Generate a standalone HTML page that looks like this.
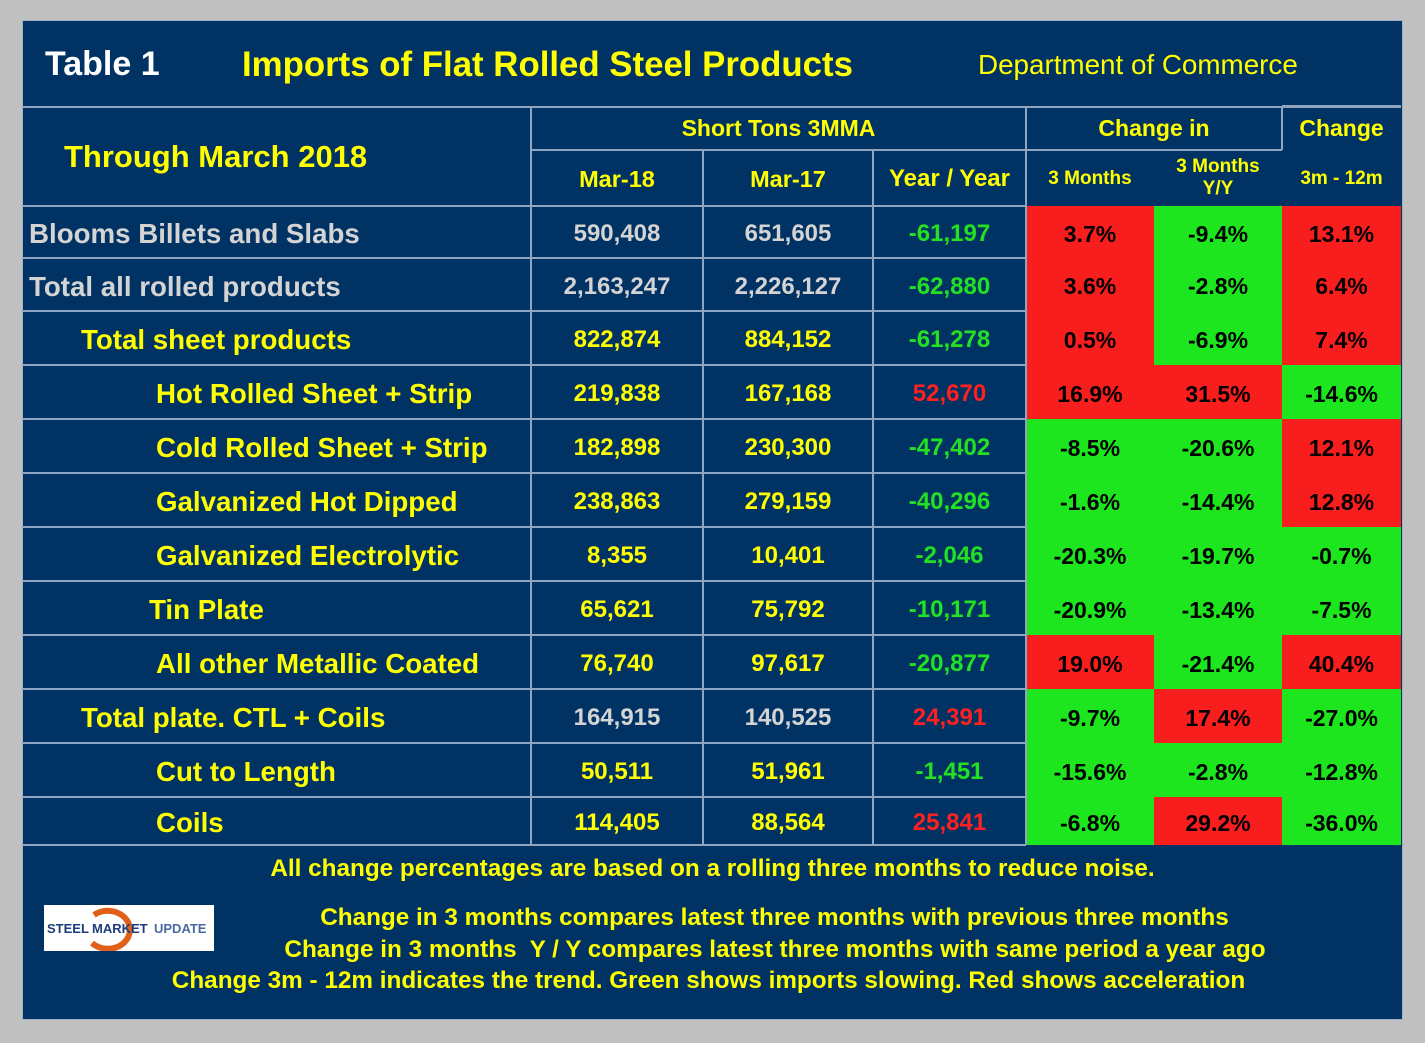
<!DOCTYPE html>
<html><head><meta charset="utf-8"><style>
body{margin:0;width:1425px;height:1043px;background:#c0c0c0;font-family:"Liberation Sans",Arial,sans-serif;font-weight:bold;overflow:hidden;position:relative}
#panel{position:absolute;left:22px;top:20px;width:1379px;height:998px;background:#003363;border:1px solid #9fb2c8}
.a{position:absolute;box-sizing:border-box;white-space:nowrap}
.c{display:flex;align-items:center;justify-content:center}
.hl{position:absolute;height:2px;background:#8ea4bf}
.vl{position:absolute;width:2px;background:#8ea4bf}
.ft{position:absolute;font-size:24.3px;color:#ffff00;white-space:nowrap}
</style></head><body>
<div id="panel"></div>
<div class="a" style="left:45px;top:45px;font-size:34px;color:#fff">Table 1</div>
<div class="a" style="left:242px;top:45px;font-size:34.8px;color:#ffff00">Imports of Flat Rolled Steel Products</div>
<div class="a" style="left:978px;top:49px;font-size:27.8px;color:#ffff00;font-weight:normal">Department of Commerce</div>
<div class="a" style="left:64px;top:139px;font-size:31px;color:#ffff00">Through March 2018</div>
<div class="a c" style="left:531px;top:106px;width:495px;height:44px;font-size:23px;color:#ffff00">Short Tons 3MMA</div>
<div class="a c" style="left:1026px;top:106px;width:256px;height:44px;font-size:23px;color:#ffff00">Change in</div>
<div class="a c" style="left:1282px;top:106px;width:119px;height:44px;font-size:23px;color:#ffff00">Change</div>
<div class="a c" style="left:531px;top:150px;width:172px;height:58px;font-size:23.5px;color:#ffff00">Mar-18</div>
<div class="a c" style="left:703px;top:150px;width:170px;height:58px;font-size:23.5px;color:#ffff00">Mar-17</div>
<div class="a c" style="left:873px;top:150px;width:153px;height:58px;font-size:24px;color:#ffff00">Year / Year</div>
<div class="a c" style="left:1026px;top:150px;width:128px;height:58px;font-size:19px;color:#ffff00">3 Months</div>
<div class="a c" style="left:1154px;top:150px;width:128px;height:56px;font-size:19px;color:#ffff00;text-align:center;line-height:22px;white-space:normal">3 Months<br>Y/Y</div>
<div class="a c" style="left:1282px;top:150px;width:119px;height:58px;font-size:19px;color:#ffff00">3m - 12m</div>
<div class="ft" style="left:270px;top:855px;width:885px;text-align:center">All change percentages are based on a rolling three months to reduce noise.</div>
<div class="ft" style="left:320px;top:904px;width:909px;text-align:center">Change in 3 months compares latest three months with previous three months</div>
<div class="ft" style="left:283px;top:936px;width:984px;text-align:center">Change in 3 months&nbsp; Y / Y compares latest three months with same period a year ago</div>
<div class="ft" style="left:171px;top:967px;width:1075px;text-align:center">Change 3m - 12m indicates the trend. Green shows imports slowing. Red shows acceleration</div>
<div class="a" style="left:44px;top:905px;width:170px;height:46px;background:#fff">
<svg width="170" height="46"><path d="M50 10 A22 19 0 1 1 48 38" fill="none" stroke="#e0601a" stroke-width="6"/><text x="3" y="28" font-family="Liberation Sans" font-size="13" font-weight="bold" fill="#1c3d7a">STEEL</text><text x="48" y="28" font-family="Liberation Sans" font-size="13" fill="#1c3d7a">MARKET</text><text x="110" y="28" font-family="Liberation Sans" font-size="13" fill="#4a6aa0">UPDATE</text></svg></div>
<div id="grid"></div>
<script>
const labels=["Blooms Billets and Slabs","Total all rolled products","Total sheet products","Hot Rolled Sheet + Strip","Cold Rolled Sheet + Strip","Galvanized Hot Dipped","Galvanized Electrolytic","Tin Plate","All other Metallic Coated","Total plate. CTL + Coils","Cut to Length","Coils"];
const mar18=["590,408","2,163,247","822,874","219,838","182,898","238,863","8,355","65,621","76,740","164,915","50,511","114,405"];
const mar17=["651,605","2,226,127","884,152","167,168","230,300","279,159","10,401","75,792","97,617","140,525","51,961","88,564"];
const yoy=["-61,197","-62,880","-61,278","52,670","-47,402","-40,296","-2,046","-10,171","-20,877","24,391","-1,451","25,841"];
const ch3m=[3.7,3.6,0.5,16.9,-8.5,-1.6,-20.3,-20.9,19.0,-9.7,-15.6,-6.8];
const ch3myy=[-9.4,-2.8,-6.9,31.5,-20.6,-14.4,-19.7,-13.4,-21.4,17.4,-2.8,29.2];
const ch3m12=[13.1,6.4,7.4,-14.6,12.1,12.8,-0.7,-7.5,40.4,-27.0,-12.8,-36.0];
const indent=[29,29,81,156,156,156,156,149,156,81,156,156];
const rowTops=[206,258,311,365,419,473,527,581,635,689,743,797,845];
const grey=[true,true,false,false,false,false,false,false,false,true,false,false];
const lblGrey=[true,true,false,false,false,false,false,false,false,false,false,false];
const g=document.getElementById('grid');
function add(html){g.insertAdjacentHTML('beforeend',html);return g.lastElementChild;}
labels.forEach((l,i)=>{
 const t=rowTops[i]+2,h=rowTops[i+1]-rowTops[i];
 let e=add(`<div class="a" style="left:${indent[i]}px;top:${t}px;height:${h}px;line-height:${h}px;font-size:27.7px;color:${lblGrey[i]?'#d4d4d4':'#ffff00'}">${l}</div>`);
 
 
 const nc=grey[i]?'#d4d4d4':'#ffff00';
 [[531,172,mar18[i]],[703,170,mar17[i]]].forEach(([x,w,v])=>{
  let c=add(`<div class="a c" style="left:${x}px;top:${t}px;width:${w}px;height:${h}px;font-size:24px;color:${nc}">${v}</div>`);
  
  
 });
 let y=add(`<div class="a c" style="left:873px;top:${t}px;width:153px;height:${h}px;font-size:24px;color:${yoy[i].startsWith('-')?'#22e022':'#ff2020'}">${yoy[i]}</div>`);
 
 
 [[1026,128,ch3m[i]],[1154,128,ch3myy[i]],[1282,119,ch3m12[i]]].forEach(([x,w,v])=>{
  let c=add(`<div class="a c" style="left:${x}px;top:${rowTops[i]}px;width:${w}px;height:${h}px;padding-top:4px;font-size:23px;color:#000;background:${v<0?'#1ee61e':'#f81e1e'}">${v.toFixed(1)}%</div>`);
  
  
 });
});
const hls=[[22,106,1379],[531,149,751],[1282,105,119]];
rowTops.forEach(t=>hls.push([22,t-1,1026-22]));
hls.forEach(([x,y,w])=>{let e=add(`<div class="hl" style="left:${x}px;top:${y}px;width:${w}px"></div>`);});
const vls=[[530,106,739],[702,150,695],[872,150,695],[1025,106,739],[1281,106,44]];
vls.forEach(([x,y,h])=>{let e=add(`<div class="vl" style="left:${x}px;top:${y}px;height:${h}px"></div>`);});
</script>
</body></html>
